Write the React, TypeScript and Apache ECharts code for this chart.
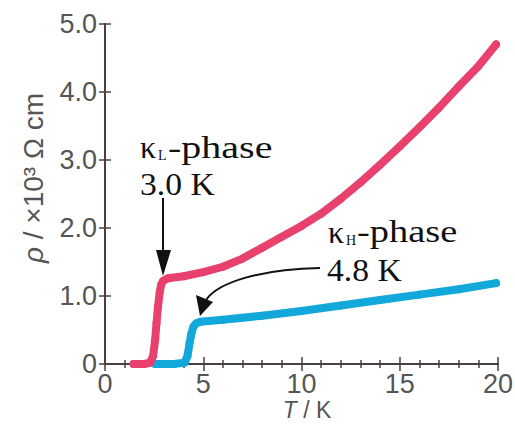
import React, { useEffect, useRef } from "react";
import * as echarts from "echarts";

const pinkT = [1.45, 2.0, 2.3, 2.45, 2.55, 2.62, 2.7, 2.78, 2.86, 2.95, 3.2, 4, 5, 6, 7, 8, 9, 10, 11, 12, 13, 14, 15, 16, 17, 18, 19, 19.9];
const pinkRho = [0.0, 0.0, 0.02, 0.12, 0.35, 0.6, 0.85, 1.05, 1.17, 1.22, 1.26, 1.29, 1.35, 1.43, 1.55, 1.71, 1.87, 2.03, 2.21, 2.43, 2.67, 2.93, 3.2, 3.48, 3.77, 4.08, 4.38, 4.7];
const blueT = [2.55, 3.5, 4.05, 4.2, 4.3, 4.4, 4.5, 4.65, 4.85, 6, 8, 10, 12, 14, 16, 18, 19.9];
const blueRho = [0.0, 0.0, 0.02, 0.12, 0.3, 0.45, 0.55, 0.6, 0.62, 0.65, 0.71, 0.78, 0.86, 0.94, 1.02, 1.1, 1.19];
const xTicks = { min: 0, max: 20, interval: 5 };
const yTicks = { min: 0, max: 5, interval: 1 };

const PINK = "#e8416d";
const BLUE = "#13a8da";
const AXIS = "#4a403c";
const LABEL = "#555555";

export default function App() {
  const ref = useRef<HTMLDivElement>(null);
  useEffect(() => {
    if (!ref.current) return;
    const chart = echarts.init(ref.current, undefined, { renderer: "svg" });
    const axisCommon = {
      axisLine: { show: true, lineStyle: { color: AXIS, width: 2 } },
      splitLine: { show: false },
    };
    const serif = "Liberation Serif";
    chart.setOption({
      animation: false,
      backgroundColor: "#ffffff",
      grid: { left: 105, top: 24, right: 17, bottom: 60, containLabel: false, outerBoundsMode: "none" },
      xAxis: [
        {
          type: "value",
          ...xTicks,
          position: "bottom",
          ...axisCommon,
          axisTick: { show: true, inside: true, length: 7, lineStyle: { color: AXIS, width: 1.5 } },
          minorTick: { show: true, splitNumber: 5, length: 4, lineStyle: { color: AXIS, width: 1.5 } },
          axisLabel: { fontSize: 27, color: LABEL, fontFamily: "Liberation Sans", margin: 6 },
        },
        {
          type: "value",
          ...xTicks,
          position: "top",
          ...axisCommon,
          axisTick: { show: true, inside: true, length: 7, lineStyle: { color: AXIS, width: 1.5 } },
          minorTick: { show: true, splitNumber: 5, length: 4, lineStyle: { color: AXIS, width: 1.5 } },
          axisLabel: { show: false },
        },
      ],
      yAxis: [
        {
          type: "value",
          ...yTicks,
          position: "left",
          ...axisCommon,
          axisTick: { show: true, inside: true, length: 6, lineStyle: { color: AXIS, width: 1.5 } },
          axisLabel: {
            fontSize: 27,
            color: LABEL,
            fontFamily: "Liberation Sans",
            margin: 8,
            formatter: (v: number) => (v === 0 ? "0" : v.toFixed(1)),
          },
        },
        {
          type: "value",
          ...yTicks,
          position: "right",
          ...axisCommon,
          axisTick: { show: true, inside: true, length: 6, lineStyle: { color: AXIS, width: 1.5 } },
          axisLabel: { show: false },
        },
      ],
      series: [
        {
          type: "line",
          name: "kH",
          data: blueT.map((t, i) => [t, blueRho[i]]),
          showSymbol: true,
          symbol: "circle",
          symbolSize: 8,
          itemStyle: { color: BLUE },
          lineStyle: { color: BLUE, width: 8, join: "round", cap: "round" },
          z: 2,
        },
        {
          type: "line",
          name: "kL",
          data: pinkT.map((t, i) => [t, pinkRho[i]]),
          showSymbol: true,
          symbol: "circle",
          symbolSize: 8,
          itemStyle: { color: PINK },
          lineStyle: { color: PINK, width: 8, join: "round", cap: "round" },
          z: 3,
        },
      ],
      graphic: [
        {
          type: "text",
          x: 33,
          y: 178,
          rotation: Math.PI / 2,
          style: {
            text: "{i|ρ} / ×10³ Ω cm",
            fontFamily: "Liberation Sans",
            fontSize: 28,
            fill: LABEL,
            align: "center",
            verticalAlign: "middle",
            rich: { i: { fontStyle: "italic", fontFamily: "Liberation Sans", fontSize: 28, fill: LABEL } },
          },
        },
        {
          type: "text",
          x: 307,
          y: 410,
          style: {
            text: "{i|T} / K",
            fontFamily: "Liberation Sans",
            fontSize: 23,
            fill: LABEL,
            align: "center",
            verticalAlign: "middle",
            rich: { i: { fontStyle: "italic", fontFamily: "Liberation Sans", fontSize: 23, fill: LABEL } },
          },
        },
        // kappa_L annotation
        { type: "text", x: 140, y: 163, style: { text: "κ", fontFamily: serif, fontSize: 32, fill: "#111", align: "left", verticalAlign: "bottom" } },
        { type: "text", x: 158, y: 162, style: { text: "L", fontFamily: serif, fontSize: 14, fill: "#111", align: "left", verticalAlign: "bottom" } },
        { type: "text", x: 168, y: 163, scaleX: 1.25, style: { text: "-phase", fontFamily: serif, fontSize: 32, fill: "#111", align: "left", verticalAlign: "bottom" } },
        { type: "text", x: 140, y: 200, scaleX: 1.05, style: { text: "3.0 K", fontFamily: serif, fontSize: 32, fill: "#111", align: "left", verticalAlign: "bottom" } },
        { type: "line", shape: { x1: 163, y1: 198, x2: 163, y2: 256 }, style: { stroke: "#111", lineWidth: 2 } },
        { type: "polygon", shape: { points: [[156, 250], [171, 250], [163, 276]] }, style: { fill: "#111" } },
        // kappa_H annotation
        { type: "text", x: 328, y: 248, style: { text: "κ", fontFamily: serif, fontSize: 32, fill: "#111", align: "left", verticalAlign: "bottom" } },
        { type: "text", x: 346, y: 247, style: { text: "H", fontFamily: serif, fontSize: 14, fill: "#111", align: "left", verticalAlign: "bottom" } },
        { type: "text", x: 357, y: 248, scaleX: 1.2, style: { text: "-phase", fontFamily: serif, fontSize: 32, fill: "#111", align: "left", verticalAlign: "bottom" } },
        { type: "text", x: 327, y: 286, scaleX: 1.05, style: { text: "4.8 K", fontFamily: serif, fontSize: 32, fill: "#111", align: "left", verticalAlign: "bottom" } },
        { type: "bezierCurve", shape: { x1: 320, y1: 268, cpx1: 262, cpy1: 269, cpx2: 218, cpy2: 282, x2: 206, y2: 300 }, style: { stroke: "#111", lineWidth: 2, fill: "none" } },
        { type: "polygon", shape: { points: [[196, 295], [213, 302], [200, 316]] }, style: { fill: "#111" } },
      ],
    });
    return () => chart.dispose();
  }, []);
  return <div ref={ref} style={{ position: "fixed", left: 0, top: 0, width: 515, height: 424 }} />;
}
